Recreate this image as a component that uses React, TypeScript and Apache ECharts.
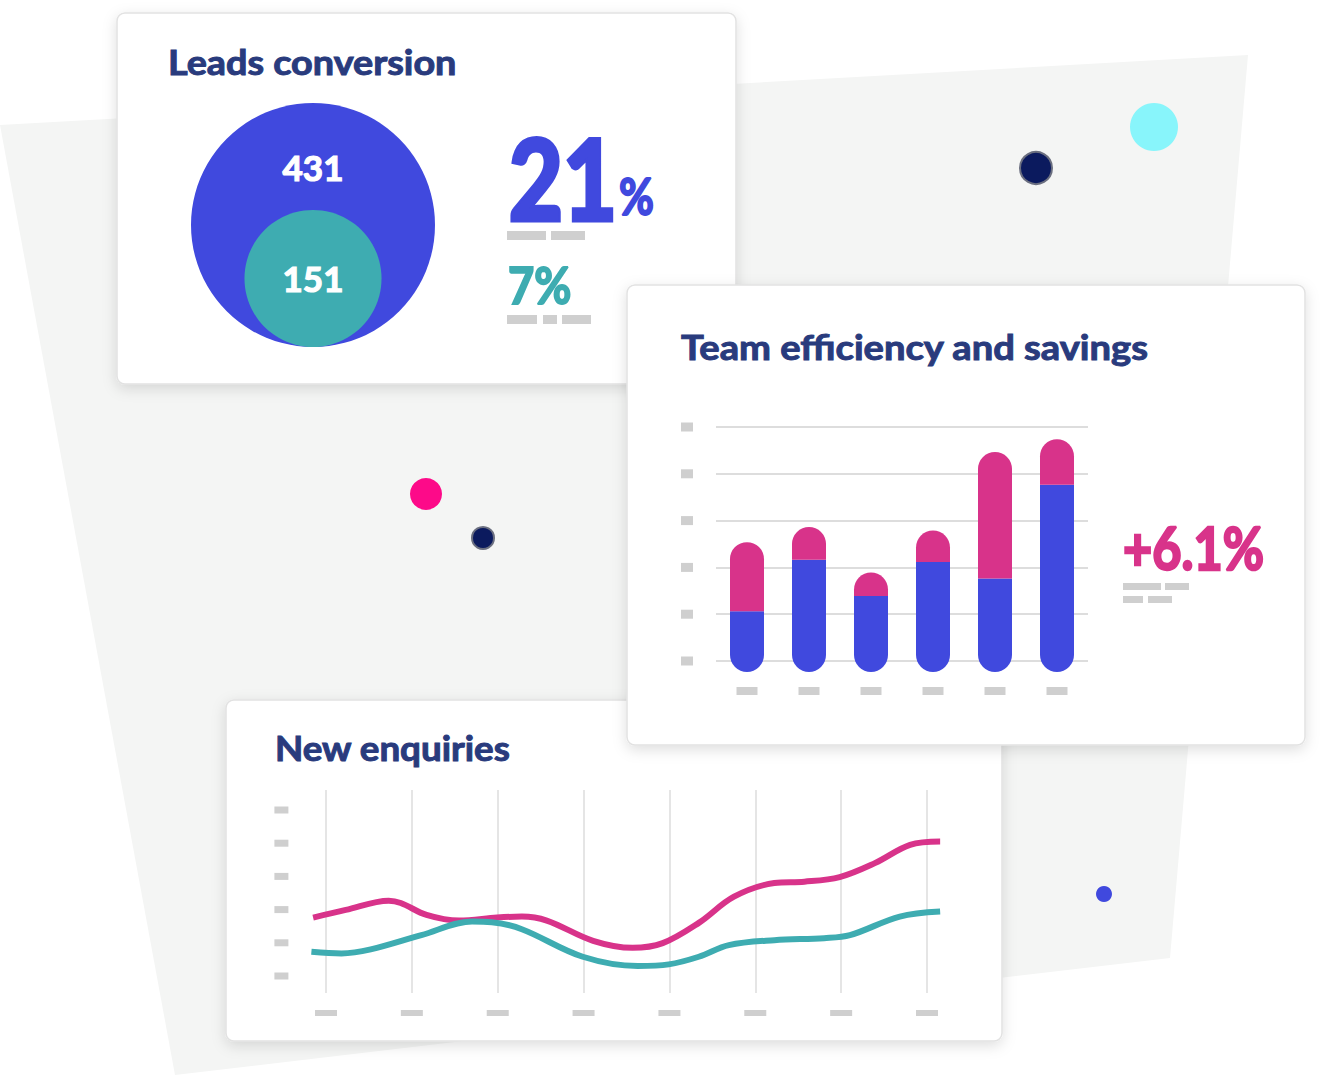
import React, { useEffect, useRef } from 'react';
import * as echarts from 'echarts';

// ---------- data ----------
const vennNames = ['Leads', 'Converted'];
const vennValues = [431, 151];
const rateMain = '21';
const rateMainUnit = '%';
const rateSecondary = '7%';

const barCategories = ['W1', 'W2', 'W3', 'W4', 'W5', 'W6'];
const barEfficiency = [26, 48, 32.5, 47, 40, 80];
const barSavings = [29.5, 14, 10, 13.5, 54, 19.5];
const barTicks = [0, 100, 20];
const barChange = '+6.1%';

const lineXTicks = [0, 7, 1];
const lineYTicks = [0, 50, 10];
const lineEnquiriesA = [
  [-0.15, 17.6], [0.23, 19.9], [0.73, 22.7], [0.87, 22.0], [1.17, 18.4], [1.55, 16.7],
  [1.99, 17.6], [2.28, 17.9], [2.57, 16.7], [3.11, 10.6], [3.57, 8.5], [3.92, 9.9],
  [4.34, 16.0], [4.75, 23.9], [5.22, 28.0], [5.57, 28.4], [5.98, 29.8], [6.39, 34.0],
  [6.8, 39.5], [7.15, 40.5],
];
const lineEnquiriesB = [
  [-0.17, 7.3], [0.18, 6.8], [0.52, 8.0], [1.11, 12.3], [1.7, 16.4], [1.93, 16.2],
  [2.28, 14.1], [2.99, 5.8], [3.63, 3.0], [3.99, 3.5], [4.34, 5.8], [4.69, 9.3],
  [5.22, 10.8], [5.8, 11.4], [6.1, 12.3], [6.68, 17.9], [7.15, 19.4],
];

// ---------- style ----------
const BLUE = '#4049de';
const TEAL = '#3eacb1';
const PINK = '#d8338a';
const NAVY = '#293b7d';
const GRAY = '#cfcfcf';
const FONT = 'Lato, "Open Sans", sans-serif';

const block = (w: number, h: number) => ({
  formatter: () => '{b|\u00a0}',
  rich: { b: { width: w, height: h, backgroundColor: GRAY, fontSize: 1, lineHeight: h } },
});

export default function App() {
  const ref = useRef<HTMLDivElement>(null);
  useEffect(() => {
    document.body.style.margin = '0';
    const chart = echarts.init(ref.current!, null, { renderer: 'svg' });
    const vennSize = (v: number) => 244 * Math.pow(v / vennValues[0], 0.55);
    let z2 = 0;
    const g = (el: any) => ({ ...el, z: 0, z2: z2++ });
    const card = (x: number, y: number, w: number, h: number) =>
      g({
        type: 'rect',
        shape: { x, y, width: w, height: h, r: 8 },
        style: {
          fill: '#ffffff', stroke: '#e2e2e2', lineWidth: 1.5,
          shadowBlur: 14, shadowColor: 'rgba(0,0,0,0.13)', shadowOffsetY: 4,
        },
      });
    const txt = (x: number, y: number, text: string, size: number, color: string, sx = 1, sw = 0) =>
      g({
        type: 'text', x, y, scaleX: sx,
        style: {
          text, fill: color, font: `bold ${size}px ${FONT}`,
          stroke: sw ? color : null, lineWidth: sw,
          textAlign: 'left', textVerticalAlign: 'middle', align: 'left', verticalAlign: 'middle',
        },
      });
    const ph = (x: number, y: number, w: number, h: number) =>
      g({ type: 'rect', shape: { x, y, width: w, height: h }, style: { fill: GRAY } });
    const dot = (cx: number, cy: number, r: number, fill: string, stroke?: string) =>
      g({ type: 'circle', shape: { cx, cy, r }, style: { fill, stroke: stroke || null, lineWidth: stroke ? 2 : 0 } });

    const graphics = [
      g({ type: 'polygon', shape: { points: [[0, 125], [1248, 55], [1170, 958], [175, 1075]] }, style: { fill: '#f4f5f4' } }),
      dot(1154, 127, 24, '#88f5fb'),
      dot(1036, 168, 16, '#0b1a5e', '#6b6f80'),
      dot(426, 494, 16, '#fd0a89'),
      dot(483, 538, 11, '#0b1a5e', '#6b6f80'),
      dot(1104, 894, 8, BLUE),
      card(117, 13, 619, 371),
      card(226, 700, 776, 341),
      card(627, 285, 678, 460),
      txt(168, 62, 'Leads conversion', 35, NAVY, 1.08, 1),
      txt(681, 347, 'Team efficiency and savings', 35, NAVY, 1.09, 1),
      txt(275, 748, 'New enquiries', 35, NAVY, 1.05, 1),
      txt(509, 176, rateMain, 112, BLUE, 0.83, 5),
      txt(619, 195, rateMainUnit, 52, BLUE, 0.82, 2),
      ph(507, 231, 39, 9), ph(551, 231, 34, 9),
      txt(508, 284, rateSecondary, 52, TEAL, 0.87, 2),
      ph(507, 315, 30, 9), ph(543, 315, 14, 9), ph(562, 315, 29, 9),
      txt(1123, 547, barChange, 60, PINK, 0.84, 2.5),
      ph(1123, 583, 38, 7), ph(1165, 583, 24, 7), ph(1123, 596, 20, 7), ph(1148, 596, 24, 7),
    ];

    const option: any = {
      animation: false,
      graphic: { elements: graphics },
      grid: [
        { left: 191, top: 103, width: 244, height: 244 },
        { left: 716, right: 236, top: 427, height: 234 },
        { left: 716, right: 236, top: 438, height: 234 },
        { left: 326, right: 397, top: 790, height: 203 },
        { left: 311.4, width: 629.6, top: 810, height: 166 },
      ],
      xAxis: [
        { gridIndex: 0, type: 'value', min: 0, max: 1, show: false },
        { gridIndex: 1, type: 'category', data: barCategories, show: false },
        {
          gridIndex: 2, type: 'category', data: barCategories, z: 1,
          axisLine: { show: false }, axisTick: { show: false }, splitLine: { show: false },
          axisLabel: { margin: 15, ...block(21, 8) },
        },
        {
          gridIndex: 3, type: 'value', min: lineXTicks[0], max: lineXTicks[1], interval: lineXTicks[2], z: 1,
          axisLine: { show: false }, axisTick: { show: false },
          splitLine: { show: true, showMinLine: true, showMaxLine: true, lineStyle: { color: '#dcdcdc', width: 1.5 } },
          axisLabel: { margin: 17, ...block(22, 6) },
        },
        { gridIndex: 4, type: 'value', min: -0.17, max: 7.16, show: false },
      ],
      yAxis: [
        { gridIndex: 0, type: 'value', min: 0, max: 244, show: false },
        {
          gridIndex: 1, type: 'value', min: barTicks[0], max: barTicks[1], interval: barTicks[2], z: 1,
          axisLine: { show: false }, axisTick: { show: false },
          splitLine: { show: true, showMinLine: true, showMaxLine: true, lineStyle: { color: '#dddddd', width: 2 } },
          axisLabel: { margin: 23, ...block(12, 9) },
        },
        { gridIndex: 2, type: 'value', min: barTicks[0], max: barTicks[1], show: false },
        { gridIndex: 3, type: 'value', min: 0, max: 1, show: false },
        {
          gridIndex: 4, type: 'value', min: lineYTicks[0], max: lineYTicks[1], interval: lineYTicks[2], z: 1,
          axisLine: { show: false }, axisTick: { show: false }, splitLine: { show: false },
          axisLabel: { margin: 23, ...block(14, 7) },
        },
      ],
      series: [
        {
          type: 'scatter', xAxisIndex: 0, yAxisIndex: 0, symbol: 'circle',
          data: vennValues.map((v, i) => ({
            name: vennNames[i],
            value: [0.5, vennSize(v) / 2, v],
            symbolSize: vennSize(v),
            itemStyle: { color: i === 0 ? BLUE : TEAL, opacity: 1 },
            label: {
              show: true, position: 'inside', formatter: (p: any) => String(p.value[2]),
              color: '#ffffff', fontFamily: FONT, fontWeight: 'bold', fontSize: 35,
              textBorderColor: '#ffffff', textBorderWidth: 1.2,
              offset: i === 0 ? [0, -58] : [0, 0],
            },
          })),
          z: 3,
        },
        {
          type: 'bar', xAxisIndex: 2, yAxisIndex: 2, stack: 'team', barWidth: 34,
          data: barEfficiency, itemStyle: { color: BLUE, borderRadius: [0, 0, 17, 17] },
        },
        {
          type: 'bar', xAxisIndex: 2, yAxisIndex: 2, stack: 'team', barWidth: 34,
          data: barSavings, itemStyle: { color: PINK, borderRadius: [17, 17, 0, 0] },
        },
        {
          type: 'line', xAxisIndex: 4, yAxisIndex: 4, data: lineEnquiriesA, smooth: 0.35,
          showSymbol: false, lineStyle: { color: PINK, width: 6 }, itemStyle: { color: PINK },
        },
        {
          type: 'line', xAxisIndex: 4, yAxisIndex: 4, data: lineEnquiriesB, smooth: 0.35,
          showSymbol: false, lineStyle: { color: TEAL, width: 6 }, itemStyle: { color: TEAL },
        },
      ],
    };
    chart.setOption(option);
    return () => chart.dispose();
  }, []);
  return <div ref={ref} style={{ position: 'fixed', left: 0, top: 0, width: 1324, height: 1075, background: '#ffffff' }} />;
}
